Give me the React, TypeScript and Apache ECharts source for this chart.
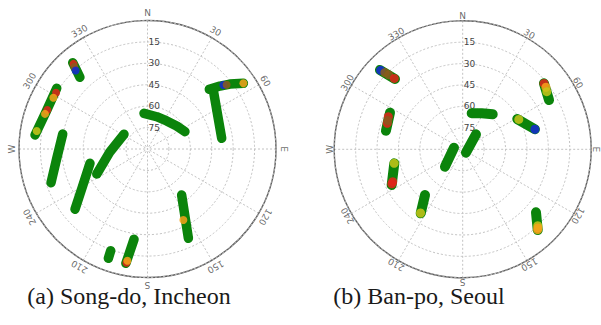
import React, { useEffect, useRef } from "react";
import * as echarts from "echarts";

// Each track: list of [azimuth (deg, clockwise from N), elevation (deg)]
const songdoTracks: number[][][] = [
  [[319.1, 10.0], [318.0, 15.5], [316.7, 21.0]],
  [[303.8, 13.5], [290.2, 14.3], [277.1, 10.6]],
  [[280.0, 29.7], [264.1, 26.1], [250.7, 18.4]],
  [[256.0, 48.5], [240.1, 37.5], [230.3, 24.0]],
  [[302.0, 70.6], [265.9, 63.7], [243.8, 50.4]],
  [[354.4, 64.9], [15.9, 66.5], [34.4, 66.2], [51.8, 64.0], [65.2, 61.1]],
  [[46.0, 29.8], [49.0, 22.8], [51.8, 16.5], [55.6, 8.6]],
  [[48.1, 28.1], [63.4, 35.2], [81.8, 37.5]],
  [[143.4, 49.9], [151.0, 35.8], [155.4, 21.2]],
  [[188.5, 26.0], [190.7, 8.5]],
  [[199.9, 14.2], [199.7, 8.7]],
];

// Coloured samples: [azimuth, elevation, kind]  kind: 0 red, 1 orange, 2 yellow, 3 blue, 4 brown
const songdoSpots: number[][] = [
  [319.0, 11.0, 0], [318.3, 13.0, 4], [317.5, 15.5, 3],
  [301.6, 14.8, 0], [298.6, 14.9, 1], [291.3, 14.7, 0], [288.9, 14.1, 1], [279.2, 11.4, 2],
  [55.6, 8.6, 1], [49.8, 20.5, 3], [50.9, 18.6, 4],
  [153.2, 34.3, 1],
  [190.5, 9.0, 0], [190.2, 10.5, 1],
];

const banpoTracks: number[][][] = [
  [[313.8, 9.7], [316.1, 21.6]],
  [[296.7, 33.0], [283.6, 34.7]],
  [[258.4, 41.1], [243.3, 34.3]],
  [[219.5, 48.5], [213.3, 36.4]],
  [[280.4, 83.8], [225.5, 72.6]],
  [[41.6, 76.0], [135.9, 86.7]],
  [[14.0, 64.0], [27.8, 61.5], [40.6, 57.7]],
  [[61.0, 46.3], [74.5, 37.5]],
  [[50.9, 16.7], [60.3, 20.4]],
  [[130.7, 22.3], [137.1, 12.8]],
];

const banpoSpots: number[][] = [
  [313.9, 10.2, 3], [314.6, 13.5, 4], [315.2, 16.5, 4], [316.0, 21.0, 0],
  [293.7, 33.1, 0], [289.0, 34.1, 0], [291.0, 33.8, 4],
  [258.4, 41.0, 2], [245.2, 36.0, 0], [244.0, 34.8, 0],
  [213.5, 36.5, 2],
  [74.5, 37.5, 3], [62.0, 45.5, 2],
  [51.0, 16.7, 0], [53.3, 17.3, 1], [55.6, 18.6, 2],
  [137.0, 13.0, 1], [135.5, 15.0, 2], [136.3, 13.8, 1],
];

const angleLabels = ["N", "30", "60", "E", "120", "150", "S", "210", "240", "W", "300", "330"];
const angleLabelAz = [0, 30, 60, 90, 120, 150, 180, 210, 240, 270, 300, 330];
const captions = ["(a) Song-do, Incheon", "(b) Ban-po, Seoul"];

const GREEN = "#0b840b";
const spotPalette = ["#e3231b", "#f7a21b", "#c9c41a", "#1428d6", "#8a5a1c"];

export default function App() {
  const ref = useRef<HTMLDivElement>(null);
  useEffect(() => {
    if (!ref.current) return;
    const chart = echarts.init(ref.current, null, { renderer: "svg" });
    const centers = [
      [147.5, 149],
      [462.7, 149.3],
    ];
    const labelRadius = [136, 133];
    const R = 128.5;
    const polar: any[] = [];
    const angleAxis: any[] = [];
    const radiusAxis: any[] = [];
    const series: any[] = [];
    const datasets = [
      { tracks: songdoTracks, spots: songdoSpots, width: 9.5, size: 8 },
      { tracks: banpoTracks, spots: banpoSpots, width: 10, size: 9 },
    ];
    centers.forEach((c, i) => {
      polar.push({ center: c, radius: R });
      angleAxis.push({
        polarIndex: i,
        type: "value",
        min: 0,
        max: 360,
        interval: 30,
        startAngle: 90,
        clockwise: true,
        axisLine: { lineStyle: { color: "#5e5e5e", width: 1.4 } },
        axisTick: { show: false },
        axisLabel: { show: false },
        splitLine: { lineStyle: { color: "#c2c2c2", width: 1, type: [2, 2] } },
      });
      radiusAxis.push({
        polarIndex: i,
        type: "value",
        min: 0,
        max: 90,
        interval: 15,
        axisLine: { show: false },
        axisTick: { show: false },
        axisLabel: {
          formatter: (v: number) => (v === 0 || v === 90 ? "" : String(90 - v)),
          fontSize: 9,
          color: "#444",
          fontFamily: "DejaVu Sans",
          align: "left",
          margin: -1,
        },
        splitLine: { lineStyle: { color: "#c2c2c2", width: 1, type: [2, 2] } },
        z: 3,
      });
    });
    centers.forEach((c, i) => {
      polar.push({ center: c, radius: labelRadius[i] });
      angleAxis.push({ polarIndex: 2 + i, type: "value", min: 0, max: 360, startAngle: 90, clockwise: true, show: false });
      radiusAxis.push({ polarIndex: 2 + i, type: "value", min: 0, max: 1, show: false });
    });
    datasets.forEach((d, i) => {
      d.tracks.forEach((t) => {
        series.push({
          type: "line",
          coordinateSystem: "polar",
          polarIndex: i,
          data: t.map(([az, el]) => [90 - el, az]),
          symbol: "none",
          silent: true,
          lineStyle: { color: GREEN, width: d.width, cap: "round", join: "round" },
          z: 4,
        });
      });
      series.push({
        type: "scatter",
        coordinateSystem: "polar",
        polarIndex: i,
        symbolSize: d.size,
        silent: true,
        data: d.spots.map(([az, el, k]) => ({ value: [90 - el, az], itemStyle: { color: spotPalette[k], opacity: 0.85 } })),
        z: 5,
      });
      series.push({
        type: "scatter",
        coordinateSystem: "polar",
        polarIndex: 2 + i,
        symbolSize: 1,
        silent: true,
        itemStyle: { color: "rgba(0,0,0,0)" },
        label: { show: true, position: "inside", formatter: "{b}", fontSize: 9, color: "#444", fontFamily: "DejaVu Sans" },
        data: angleLabelAz.map((az, j) => ({ name: angleLabels[j], value: [1, az], label: { rotate: -az } })),
        z: 5,
      });
    });
    chart.setOption({
      animation: false,
      backgroundColor: "#ffffff",
      polar,
      angleAxis,
      radiusAxis,
      series,
      graphic: captions.map((t, i) => ({
        type: "text",
        x: [129, 419][i],
        y: 296,
        style: {
          text: t,
          fill: "#1a1a1a",
          font: "24px 'Liberation Serif'",
          align: "center",
          verticalAlign: "middle",
        },
      })),
    });
    return () => chart.dispose();
  }, []);
  return <div ref={ref} style={{ position: "absolute", left: 0, top: 0, width: 601, height: 325 }} />;
}
